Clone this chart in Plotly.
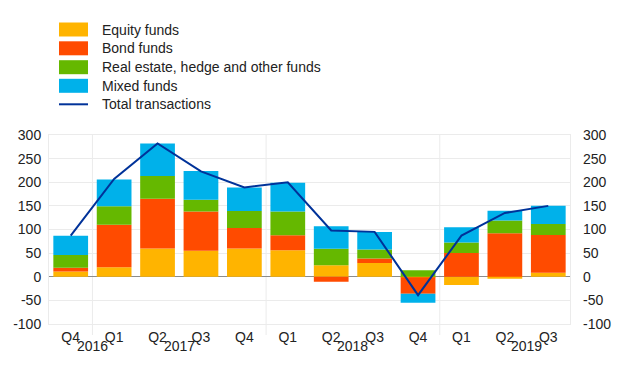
import plotly.graph_objects as go

quarters = ["Q4", "Q1", "Q2", "Q3", "Q4", "Q1", "Q2", "Q3", "Q4", "Q1", "Q2", "Q3"]
years = ["2016", "2017", "2018", "2019"]
year_pos = [0.5, 2.5, 6.5, 10.5]
year_breaks = [0.5, 4.5, 8.5]
y_ticks = [-100, -50, 0, 50, 100, 150, 200, 250, 300]
y_tick_labels = ["-100", "-50", "0", "50", "100", "150", "200", "250", "300"]

equity = [11, 20, 60, 55, 60, 56, 24.5, 29, -1, -17.5, -4, 8.5]
bond = [8, 90, 105, 83, 43, 32, -10.5, 9.5, -35, 50.5, 92, 80]
real_estate = [27, 39, 48, 25, 36, 50, 34.5, 19, 14, 22, 27, 23]
mixed = [41, 57, 69, 61, 50, 61, 48, 37, -19, 32, 20.5, 39]
total = [87, 207, 282, 223, 189, 200, 98, 95, -39, 87, 135, 150]

x = list(range(len(quarters)))

series = [
    ("Equity funds", equity, "#FFB400"),
    ("Bond funds", bond, "#FF4B00"),
    ("Real estate, hedge and other funds", real_estate, "#65B800"),
    ("Mixed funds", mixed, "#00B1EA"),
]
line_name = "Total transactions"
line_color = "#003299"

W, H = 620, 387
L, R, T, B = 49, 50, 135, 63
pw, ph = W - L - R, H - T - B

fig = go.Figure()
for name, vals, col in series:
    fig.add_trace(go.Bar(x=x, y=vals, name=name, marker=dict(color=col, line=dict(width=0)),
                         width=0.8, showlegend=False))
fig.add_trace(go.Scatter(x=x, y=total, name=line_name, mode="lines",
                         line=dict(color=line_color, width=2), yaxis="y2", showlegend=False))

grid = "#ebebeb"
font = "Liberation Sans, Arial, sans-serif"
txt = "#222"


def px_x(px):
    return (px - L) / pw


def px_y(py):
    return (H - B - py) / ph


shapes = []
for b in year_breaks:
    shapes.append(dict(type="line", xref="x", yref="paper", x0=b, x1=b, y0=px_y(335), y1=1,
                       line=dict(color=grid, width=1), layer="below"))

annotations = []
for yr, p in zip(years, year_pos):
    annotations.append(dict(text=yr, x=p, xref="x", y=px_y(346), yref="paper", showarrow=False,
                            xanchor="center", yanchor="middle", font=dict(size=14, color=txt)))

# legend (drawn manually to match swatch sizes)
leg_rows = [29.5, 48.3, 67.2, 85.8, 104.3]
sw_x0, sw_x1, text_x = 59, 88, 100
for (name, _, col), yc in zip(series, leg_rows):
    shapes.append(dict(type="rect", xref="paper", yref="paper",
                       x0=px_x(sw_x0), x1=px_x(sw_x1), y0=px_y(yc + 7), y1=px_y(yc - 7),
                       fillcolor=col, line=dict(width=0)))
    annotations.append(dict(text=name, x=px_x(text_x), y=px_y(yc), xref="paper", yref="paper",
                            showarrow=False, xanchor="left", yanchor="middle",
                            font=dict(size=14, color=txt)))
yc = leg_rows[4]
shapes.append(dict(type="line", xref="paper", yref="paper", x0=px_x(sw_x0), x1=px_x(sw_x1),
                   y0=px_y(yc), y1=px_y(yc), line=dict(color=line_color, width=2)))
annotations.append(dict(text=line_name, x=px_x(text_x), y=px_y(yc), xref="paper", yref="paper",
                        showarrow=False, xanchor="left", yanchor="middle",
                        font=dict(size=14, color=txt)))

fig.update_layout(
    width=W, height=H,
    margin=dict(l=L, r=R, t=T, b=B, autoexpand=False),
    barmode="relative",
    plot_bgcolor="white", paper_bgcolor="white",
    font=dict(family=font, size=14, color=txt),
    showlegend=False,
    xaxis=dict(range=[-0.5, 11.5], tickvals=x, ticktext=quarters, showgrid=False,
               zeroline=False, ticks="", showline=True, linecolor=grid, mirror=True,
               tickfont=dict(size=14), automargin=False, ticklabelstandoff=0),
    yaxis=dict(range=[-100, 300], tickvals=y_ticks, ticktext=y_tick_labels, gridcolor=grid,
               zeroline=True, zerolinecolor="#8c8c8c", zerolinewidth=1, showline=True,
               linecolor=grid, mirror=True, ticks="", tickfont=dict(size=14), automargin=False,
               ticklabelstandoff=4),
    yaxis2=dict(range=[-100, 300], tickvals=y_ticks, ticktext=y_tick_labels, overlaying="y",
                side="right", showgrid=False, zeroline=False, ticks="", tickfont=dict(size=14),
                automargin=False, ticklabelstandoff=12),
    shapes=shapes,
    annotations=annotations,
)

fig.write_html("out.html", config={"displayModeBar": False},
               post_script="document.body.style.margin='0';document.body.style.overflow='hidden';")
